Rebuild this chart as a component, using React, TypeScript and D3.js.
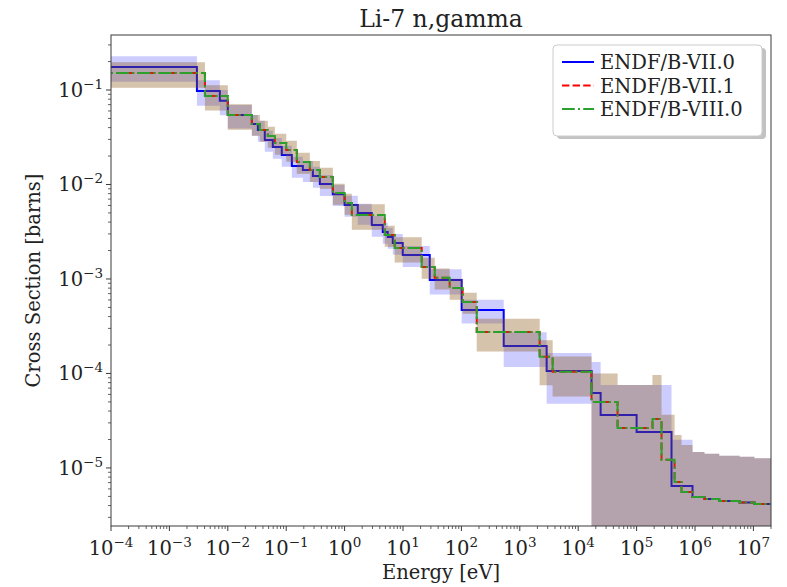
import React from 'react';
import * as d3 from 'd3';

const title = 'Li-7 n,gamma';
const xLabel = 'Energy [eV]';
const yLabel = 'Cross Section [barns]';
const libraryNames = ['ENDF/B-VII.0', 'ENDF/B-VII.1', 'ENDF/B-VIII.0'];
const xTickExponents = [-4, -3, -2, -1, 0, 1, 2, 3, 4, 5, 6, 7];
const yTickExponents = [-5, -4, -3, -2, -1];

// ENDF/B-VII.0 group structure (eV), cross sections (b), relative uncertainty
const vii0Edges = [1e-5, 2.96e-3, 7.3e-3, 1.0e-2, 2.58e-2, 3.27e-2, 4.3e-2, 5.9e-2, 8.4e-2, 0.125, 0.193, 0.286, 0.377, 0.628, 1.0, 1.68, 2.92, 4.5, 5.48, 6.68, 9.9, 28.7, 101, 530, 2880, 1.69e4, 2.42e4, 1.0e5, 3.96e5, 9.06e5, 1.45e6, 2.6e6, 5.8e6, 1.04e7, 2e7];
const vii0Values = [0.175, 0.0976, 0.077, 0.0543, 0.0436, 0.0377, 0.0296, 0.0249, 0.0205, 0.0157, 0.0142, 0.0123, 0.0101, 0.0079, 0.00607, 0.00499, 0.00373, 0.00314, 0.00278, 0.0024, 0.00179, 0.000976, 0.00047, 0.000195, 0.000106, 6.22e-5, 3.64e-5, 2.4e-5, 6.46e-6, 4.93e-6, 4.7e-6, 4.48e-6, 4.32e-6, 4.16e-6];
const vii0RelUnc = [0.3, 0.3, 0.3, 0.28, 0.25, 0.25, 0.25, 0.25, 0.25, 0.25, 0.25, 0.25, 0.25, 0.25, 0.25, 0.25, 0.25, 0.25, 0.25, 0.25, 0.25, 0.3, 0.28, 0.4, 0.55, 1.12, 1.08, 2.14, 2.07, 2.0, 2.0, 2.0, 2.05, 2.05];

// ENDF/B-VII.1
const vii1Edges = [1e-5, 4.06e-3, 1.0e-2, 2.58e-2, 3.54e-2, 4.85e-2, 6.4e-2, 0.1, 0.152, 0.254, 0.377, 0.628, 1.0, 1.33, 4.87, 7.2, 20.9, 34.9, 63, 105, 183, 2186, 3650, 1.69e4, 4.72e4, 1.87e5, 2.67e5, 4.46e5, 5.87e5, 9.06e5, 1.45e6, 2.6e6, 5.8e6, 1.04e7, 2e7];
const vii1Values = [0.151, 0.0865, 0.0543, 0.0436, 0.0377, 0.0326, 0.0275, 0.0232, 0.0173, 0.0142, 0.012, 0.00813, 0.00637, 0.00475, 0.00292, 0.00213, 0.00134, 0.00103, 0.000803, 0.000571, 0.000275, 0.00015, 0.000104, 4.99e-5, 2.65e-5, 3.3e-5, 1.22e-5, 7.11e-6, 5.57e-6, 4.93e-6, 4.7e-6, 4.48e-6, 4.32e-6, 4.16e-6];
const vii1RelUnc = [0.3, 0.3, 0.3, 0.25, 0.25, 0.25, 0.25, 0.25, 0.25, 0.25, 0.25, 0.25, 0.25, 0.3, 0.25, 0.3, 0.25, 0.25, 0.25, 0.25, 0.38, 0.5, 0.45, 1.0, 1.85, 1.92, 2.0, 2.14, 2.14, 2.0, 2.0, 2.0, 2.05, 2.05];

// ENDF/B-VIII.0
const viii0Edges = [1e-5, 4.06e-3, 1.0e-2, 2.58e-2, 3.54e-2, 4.85e-2, 6.4e-2, 0.1, 0.152, 0.254, 0.377, 0.628, 1.0, 1.33, 4.87, 7.2, 20.9, 34.9, 63, 105, 183, 2186, 3650, 1.69e4, 4.72e4, 1.87e5, 2.67e5, 4.46e5, 5.87e5, 9.06e5, 1.45e6, 2.6e6, 5.8e6, 1.04e7, 2e7];
const viii0Values = [0.151, 0.0865, 0.0543, 0.0436, 0.0377, 0.0326, 0.0275, 0.0232, 0.0173, 0.0142, 0.012, 0.00813, 0.00637, 0.00475, 0.00292, 0.00213, 0.00134, 0.00103, 0.000803, 0.000571, 0.000275, 0.00015, 0.000104, 4.99e-5, 2.65e-5, 3.3e-5, 1.22e-5, 7.11e-6, 5.57e-6, 4.93e-6, 4.7e-6, 4.48e-6, 4.32e-6, 4.16e-6];
const viii0RelUnc = [0.3, 0.3, 0.3, 0.25, 0.25, 0.25, 0.25, 0.25, 0.25, 0.25, 0.25, 0.25, 0.25, 0.3, 0.25, 0.3, 0.25, 0.25, 0.25, 0.25, 0.38, 0.5, 0.45, 1.0, 1.85, 1.92, 2.0, 2.14, 2.14, 2.0, 2.0, 2.0, 2.05, 2.05];

const colors = ['#0000ff', '#ff0000', '#2ca02c'];
const dashes = [undefined, '7.4,3.2', '12.8,3.2,2,3.2'];

const FONT = '"DejaVu Serif", serif';

export default function App() {
  const W = 787, H = 587;
  const L = 111, R = 771, T = 35, B = 526;
  const x = d3.scaleLog().domain([1e-4, 2e7]).range([L, R]);
  const y = d3.scaleLog().domain([2.43e-6, 0.382]).range([B, T]);
  const floor = 1e-9;
  const FS = 19.5;
  const SUP = 13.5;

  const series = [
    { name: libraryNames[0], edges: vii0Edges, values: vii0Values, unc: vii0RelUnc },
    { name: libraryNames[1], edges: vii1Edges, values: vii1Values, unc: vii1RelUnc },
    { name: libraryNames[2], edges: viii0Edges, values: viii0Values, unc: viii0RelUnc },
  ];

  const line = d3.line<[number, number]>()
    .x(d => x(d[0]))
    .y(d => y(d[1]))
    .curve(d3.curveStepAfter);
  const area = d3.area<{ e: number; lo: number; hi: number }>()
    .x(d => x(d.e))
    .y0(d => y(Math.max(d.lo, floor)))
    .y1(d => y(d.hi))
    .curve(d3.curveStepAfter);

  const xMinor: number[] = [];
  for (let d = -5; d <= 7; d++) for (let k = 2; k <= 9; k++) {
    const v = k * Math.pow(10, d);
    if (v >= 1e-4 && v <= 2e7) xMinor.push(v);
  }
  const yMinor: number[] = [];
  for (let d = -6; d <= -1; d++) for (let k = 2; k <= 9; k++) {
    const v = k * Math.pow(10, d);
    if (v >= 2.43e-6 && v <= 0.382) yMinor.push(v);
  }

  const expLabel = (e: number) => (e < 0 ? '\u2212' + Math.abs(e) : String(e));

  return (
    <svg width={W} height={H} style={{ position: 'absolute', left: 0, top: 0, background: '#fff' }} fontFamily={FONT}>
      <defs>
        <clipPath id="plotclip">
          <rect x={L} y={T} width={R - L} height={B - T} />
        </clipPath>
      </defs>
      <rect x={0} y={0} width={W} height={H} fill="#fff" />
      <g clipPath="url(#plotclip)">
        {series.map((s, si) => {
          const pts: [number, number][] = s.values.map((v, i) => [s.edges[i], v] as [number, number]);
          pts.push([s.edges[s.edges.length - 1], s.values[s.values.length - 1]]);
          const band = s.values.map((v, i) => ({ e: s.edges[i], lo: v * (1 - s.unc[i]), hi: v * (1 + s.unc[i]) }));
          const lv = s.values.length - 1;
          band.push({ e: s.edges[s.edges.length - 1], lo: s.values[lv] * (1 - s.unc[lv]), hi: s.values[lv] * (1 + s.unc[lv]) });
          return (
            <g key={s.name}>
              <path d={area(band) || ''} fill={colors[si]} fillOpacity={0.2} stroke="none" />
              <path d={line(pts) || ''} fill="none" stroke={colors[si]} strokeWidth={2} strokeDasharray={dashes[si]} />
            </g>
          );
        })}
      </g>
      {/* frame */}
      <rect x={L} y={T} width={R - L} height={B - T} fill="none" stroke="#3a3a3a" strokeWidth={1} />
      {/* x ticks */}
      {xMinor.map(v => (
        <line key={'xm' + v} x1={x(v)} x2={x(v)} y1={B} y2={B + 3} stroke="#3a3a3a" strokeWidth={0.8} />
      ))}
      {xTickExponents.map(e => {
        const px = x(Math.pow(10, e));
        return (
          <g key={'xt' + e}>
            <line x1={px} x2={px} y1={B} y2={B + 5} stroke="#3a3a3a" strokeWidth={1} />
            <text x={px} y={555} textAnchor="middle" fontSize={FS} fill="#222">
              10<tspan dy={-8} fontSize={SUP}>{expLabel(e)}</tspan>
            </text>
          </g>
        );
      })}
      {/* y ticks */}
      {yMinor.map(v => (
        <line key={'ym' + v} x1={L - 3} x2={L} y1={y(v)} y2={y(v)} stroke="#3a3a3a" strokeWidth={0.8} />
      ))}
      {yTickExponents.map(e => {
        const py = y(Math.pow(10, e));
        return (
          <g key={'yt' + e}>
            <line x1={L - 5} x2={L} y1={py} y2={py} stroke="#3a3a3a" strokeWidth={1} />
            <text x={103} y={py + 7} textAnchor="end" fontSize={FS} fill="#222">
              10<tspan dy={-8} fontSize={SUP}>{expLabel(e)}</tspan>
            </text>
          </g>
        );
      })}
      {/* labels */}
      <text x={(L + R) / 2} y={27} textAnchor="middle" fontSize={23.5} fill="#222">{title}</text>
      <text x={(L + R) / 2} y={579} textAnchor="middle" fontSize={FS} fill="#222">{xLabel}</text>
      <text transform={`translate(40,${(T + B) / 2}) rotate(-90)`} textAnchor="middle" fontSize={FS} fill="#222">{yLabel}</text>
      {/* legend */}
      <g>
        <rect x={557} y={48} width={209} height={91} rx={4} fill="#999" fillOpacity={0.6} />
        <rect x={553} y={45} width={209} height={91} rx={4} fill="#fff" stroke="#cccccc" strokeWidth={1} />
        {series.map((s, si) => {
          const cy = 62 + si * 23.5;
          return (
            <g key={'lg' + s.name}>
              <line x1={562} x2={594} y1={cy} y2={cy} stroke={colors[si]} strokeWidth={2} strokeDasharray={dashes[si]} />
              <text x={600} y={cy + 7} fontSize={FS} fill="#222">{s.name}</text>
            </g>
          );
        })}
      </g>
    </svg>
  );
}
